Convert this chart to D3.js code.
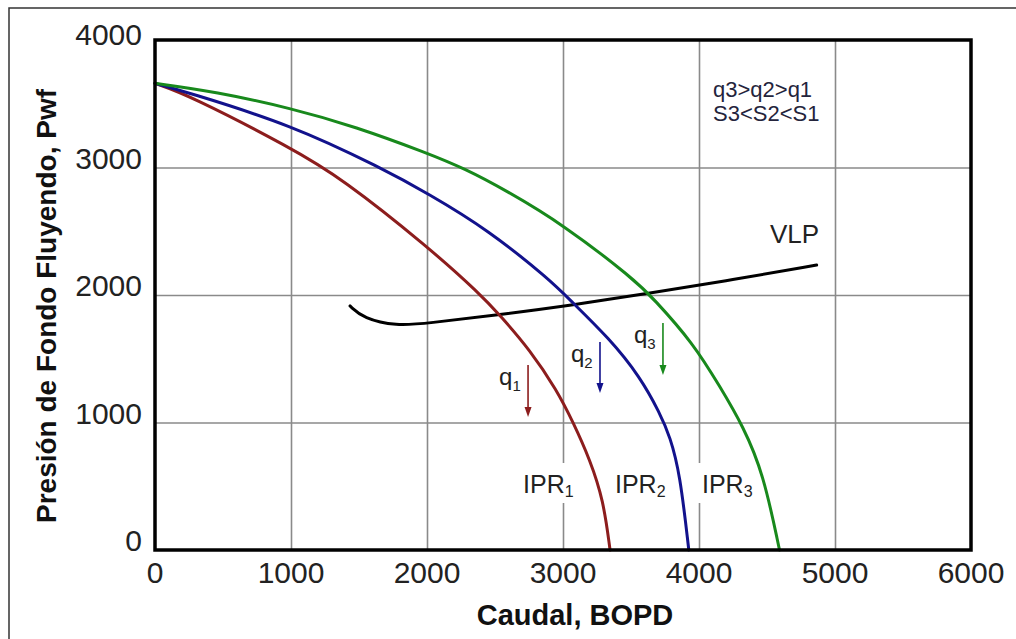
<!DOCTYPE html>
<html lang="es">
  <head>
    <meta charset="utf-8">
    <title>IPR / VLP</title>
    <script src="https://d3js.org/d3.v7.min.js"></script>
    <style>
      body { margin: 0; background: white; }
      text { font-family: "Liberation Sans", Arial, sans-serif; }
    </style>
  </head>
  <body>
    <script type="text/javascript">

      // Width and height
      var w = 1016;
      var h = 639;
      var margin = {top: 40, right: 45, bottom: 89, left: 155};
      var innerWidth = w - margin.left - margin.right;
      var innerHeight = h - margin.top - margin.bottom;

      // data (caudal BOPD, presion psi)
      var ipr1Q = [0, 245, 1005, 1373, 2005, 2390, 2537, 2757, 2954, 3076, 3199, 3297, 3346];
      var ipr1P = [3660, 3569, 3151, 2915, 2380, 2008, 1840, 1569, 1255, 999, 706, 392, 0];

      var ipr2Q = [0, 221, 1005, 1667, 2005, 2451, 2904, 3051, 3340, 3566, 3713, 3787, 3860, 3925];
      var ipr2P = [3660, 3595, 3334, 2994, 2798, 2510, 2118, 1961, 1660, 1360, 1072, 889, 601, 0];

      var ipr3Q = [0, 441, 1005, 1471, 2005, 2279, 2573, 3007, 3520, 3664, 3958, 4154, 4326, 4473, 4592];
      var ipr3P = [3660, 3595, 3464, 3321, 3112, 2990, 2825, 2549, 2125, 1974, 1621, 1281, 968, 601, 0];

      var vlpQ = [1434, 1532, 1777, 1998, 2512, 3077, 3627, 4250, 4865];
      var vlpP = [1914, 1817, 1757, 1778, 1843, 1922, 2013, 2120, 2235];

      var xTicks = [0, 1000, 2000, 3000, 4000, 5000, 6000];
      var yTicks = [0, 1000, 2000, 3000, 4000];

      // annotation anchors in data units
      var arrowNames = ["1", "2", "3"];
      var arrowQ = [2743, 3272, 3735];
      var arrowTop = [1451, 1631, 1780];
      var arrowTip = [1043, 1231, 1373];
      var iprLabelQ = [2706, 3382, 4022];
      var iprLabelP = 447;

      var colors = ["#8c1d1d", "#12128c", "#18891c"];

      var svg = d3.select("body")
        .append("svg")
          .attr("width", w)
          .attr("height", h);

      // outer border of the figure (cropped)
      svg.append("path")
        .attr("d", "M9," + h + "V8H" + w)
        .attr("fill", "none")
        .attr("stroke", "#333")
        .attr("stroke-width", 1.5);

      var xScale = d3.scaleLinear().domain([0, 6000]).range([margin.left, margin.left + innerWidth]);
      var yScale = d3.scaleLinear().domain([0, 4000]).range([margin.top + innerHeight, margin.top]);

      // grid
      svg.append("g")
        .attr("class", "xgrid")
        .attr("transform", `translate(0, ${margin.top + innerHeight})`)
        .call(d3.axisBottom(xScale).tickValues(xTicks.slice(1, -1)).tickSize(-innerHeight).tickFormat(""))
        .call(a => a.select(".domain").remove())
        .call(a => a.selectAll("text").remove())
        .selectAll("line")
          .attr("stroke", "#8a8a8a")
          .attr("stroke-width", 1.6);

      svg.append("g")
        .attr("class", "ygrid")
        .attr("transform", `translate(${margin.left}, 0)`)
        .call(d3.axisLeft(yScale).tickValues(yTicks.slice(1, -1)).tickSize(-innerWidth).tickFormat(""))
        .call(a => a.select(".domain").remove())
        .call(a => a.selectAll("text").remove())
        .selectAll("line")
          .attr("stroke", "#8a8a8a")
          .attr("stroke-width", 1.6);

      // tick labels
      svg.selectAll(".xlab")
        .data(xTicks)
        .enter().append("text")
          .attr("class", "xlab")
          .attr("x", d => xScale(d))
          .attr("y", yScale(0) + 33)
          .attr("text-anchor", "middle")
          .attr("font-size", 30)
          .attr("fill", "#222")
          .text(d => d);

      svg.selectAll(".ylab")
        .data(yTicks)
        .enter().append("text")
          .attr("class", "ylab")
          .attr("x", margin.left - 13)
          .attr("y", d => yScale(d) + (d == 4000 ? 5 : 1))
          .attr("text-anchor", "end")
          .attr("font-size", 30)
          .attr("fill", "#222")
          .text(d => d);

      // white boxes behind IPR labels (they break the grid)
      svg.selectAll(".iprbox")
        .data(iprLabelQ)
        .enter().append("rect")
          .attr("x", d => xScale(d) - 4)
          .attr("y", yScale(iprLabelP) - 30)
          .attr("width", 60)
          .attr("height", 40)
          .attr("fill", "white");

      var line = d3.line()
        .x(d => xScale(d[0]))
        .y(d => yScale(d[1]))
        .curve(d3.curveBasis);

      var curves = [
        {pts: d3.zip(vlpQ, vlpP), color: "#000"},
        {pts: d3.zip(ipr1Q, ipr1P), color: colors[0]},
        {pts: d3.zip(ipr2Q, ipr2P), color: colors[1]},
        {pts: d3.zip(ipr3Q, ipr3P), color: colors[2]}
      ];

      svg.selectAll(".curve")
        .data(curves)
        .enter().append("path")
          .attr("class", "curve")
          .attr("d", d => line(d.pts))
          .attr("fill", "none")
          .attr("stroke", d => d.color)
          .attr("stroke-width", 3)
          .attr("stroke-linecap", "round");

      // frame
      svg.append("rect")
        .attr("x", margin.left)
        .attr("y", margin.top)
        .attr("width", innerWidth)
        .attr("height", innerHeight)
        .attr("fill", "none")
        .attr("stroke", "#000")
        .attr("stroke-width", 3.5);

      // IPR labels
      iprLabelQ.forEach(function(q, i) {
        var t = svg.append("text")
          .attr("x", xScale(q))
          .attr("y", yScale(iprLabelP))
          .attr("font-size", 25)
          .attr("fill", "#222");
        t.append("tspan").text("IPR");
        t.append("tspan").attr("font-size", 16).attr("dy", 4).text(arrowNames[i]);
      });

      // q arrows
      arrowQ.forEach(function(q, i) {
        var x = xScale(q);
        var y0 = yScale(arrowTop[i]);
        var y1 = yScale(arrowTip[i]);
        svg.append("line")
          .attr("x1", x).attr("x2", x)
          .attr("y1", y0).attr("y2", y1 - 8)
          .attr("stroke", colors[i])
          .attr("stroke-width", 1.6);
        svg.append("path")
          .attr("d", `M${x - 3.5},${y1 - 10}L${x + 3.5},${y1 - 10}L${x},${y1}Z`)
          .attr("fill", colors[i]);
        var t = svg.append("text")
          .attr("x", x - 29)
          .attr("y", y0 + 20)
          .attr("font-size", 24)
          .attr("fill", "#222");
        t.append("tspan").text("q");
        t.append("tspan").attr("font-size", 15).attr("dy", 6).text(arrowNames[i]);
      });

      // VLP label
      svg.append("text")
        .attr("x", xScale(4522))
        .attr("y", yScale(2408))
        .attr("font-size", 26)
        .attr("fill", "#222")
        .text("VLP");

      // note
      svg.append("text")
        .attr("x", xScale(4103))
        .attr("y", yScale(3553))
        .attr("font-size", 22)
        .attr("fill", "#24243c")
        .text("q3>q2>q1");
      svg.append("text")
        .attr("x", xScale(4103))
        .attr("y", yScale(3365))
        .attr("font-size", 22)
        .attr("fill", "#24243c")
        .text("S3<S2<S1");

      // axis titles
      svg.append("text")
        .attr("x", 575)
        .attr("y", 625)
        .attr("text-anchor", "middle")
        .attr("font-size", 29)
        .attr("font-weight", "bold")
        .attr("fill", "#111")
        .text("Caudal, BOPD");

      svg.append("text")
        .attr("transform", "translate(56, 306) rotate(-90)")
        .attr("text-anchor", "middle")
        .attr("font-size", 28)
        .attr("font-weight", "bold")
        .attr("fill", "#111")
        .text("Presión de Fondo Fluyendo, Pwf");

    </script>
  </body>
</html>
